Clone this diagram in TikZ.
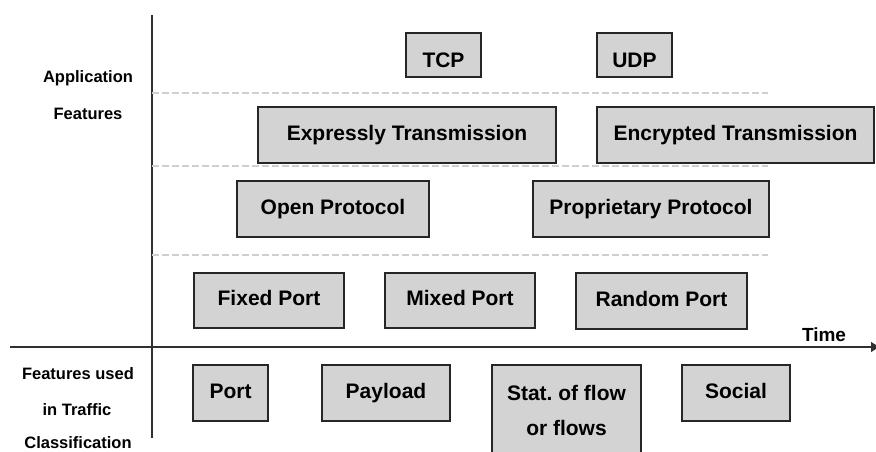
\documentclass[tikz,border=0pt]{standalone}
\usepackage{fontspec}
\setmainfont{Liberation Sans}
\usetikzlibrary{arrows.meta}
\definecolor{boxfill}{HTML}{D3D3D3}
\definecolor{boxline}{HTML}{262626}
\definecolor{dashgray}{HTML}{CFCFCF}
\definecolor{axisgray}{HTML}{303030}
\begin{document}
\begin{tikzpicture}[x=1pt,y=-1pt,
  feat/.style={draw=boxline, fill=boxfill, line width=1.5pt, inner sep=0pt,
    text height=14.5pt, text depth=4pt,
    font=\fontsize{21}{25}\selectfont\bfseries},
  boxtext/.style={inner sep=0pt, anchor=base, font=\fontsize{21}{25}\selectfont\bfseries},
  sidelabel/.style={font=\fontsize{16.5}{19}\selectfont\bfseries, inner sep=0pt, anchor=base},
  axisline/.style={draw=axisgray, line width=1.5pt},
  sepline/.style={draw=dashgray, line width=1.3pt, dash pattern=on 7pt off 3pt}]
\useasboundingbox (0,0) rectangle (876,452);
\clip (0,0) rectangle (876,452);

% axes
\coordinate (vtop) at (152,15);
\coordinate (vbot) at (152,438);
\coordinate (hleft) at (10,347);
\coordinate (hright) at (879,347);
\draw[axisline] (vtop) -- (vbot);
\draw[axisline, -{Triangle[length=8pt,width=10pt]}] (hleft) -- (hright);
\node[font=\fontsize{19}{22}\selectfont\bfseries, inner sep=0pt, anchor=base] (time) at (824,341.5) {Time};

% separators
\coordinate (s1a) at (152,93);  \coordinate (s1b) at (768,93);
\coordinate (s2a) at (152,166); \coordinate (s2b) at (768,166);
\coordinate (s3a) at (152,255); \coordinate (s3b) at (768,255);
\draw[sepline] (s1a) -- (s1b);
\draw[sepline] (s2a) -- (s2b);
\draw[sepline] (s3a) -- (s3b);

% side labels
\node[sidelabel] (app1) at (88,83) {Application};
\node[sidelabel] (app2) at (88,120) {Features};
\node[sidelabel] (cls1) at (78,379) {Features used};
\node[sidelabel] (cls2) at (77,415.5) {in Traffic};
\node[sidelabel] (cls3) at (78,448.5) {Classification};

% top row
\node[feat, minimum width=75pt, minimum height=44pt, text height=24pt, text depth=0pt] (tcp) at (443.5,55) {TCP};
\node[feat, minimum width=75pt, minimum height=44pt, text height=24pt, text depth=0pt] (udp) at (634.5,55) {UDP};

% transmission row
\node[feat, minimum width=298pt, minimum height=56pt] (expr) at (407,135) {Expressly Transmission};
\node[feat, minimum width=277pt, minimum height=56pt] (encr) at (735.5,135) {Encrypted Transmission};

% protocol row
\node[feat, minimum width=192pt, minimum height=56pt] (open) at (333,209) {Open Protocol};
\node[feat, minimum width=236pt, minimum height=56pt] (prop) at (651,209) {Proprietary Protocol};

% port row
\node[feat, minimum width=150pt, minimum height=55pt] (fixed) at (269,300.5) {Fixed Port};
\node[feat, minimum width=150pt, minimum height=55pt] (mixed) at (460,300.5) {Mixed Port};
\node[feat, minimum width=171pt, minimum height=56pt] (random) at (661.5,301) {Random Port};

% classification row
\node[feat, minimum width=75pt, minimum height=56pt] (port) at (230.5,393) {Port};
\node[feat, minimum width=128pt, minimum height=56pt] (payload) at (386,393) {Payload};
\node[feat, minimum width=149pt, minimum height=93pt] (stat) at (566.5,411.5) {};
\node[boxtext] (statA) at (566.5,400) {Stat.\ of flow};
\node[boxtext] (statB) at (566.5,435) {or flows};
\node[feat, minimum width=108pt, minimum height=56pt] (social) at (736,393) {Social};
\end{tikzpicture}
\end{document}
